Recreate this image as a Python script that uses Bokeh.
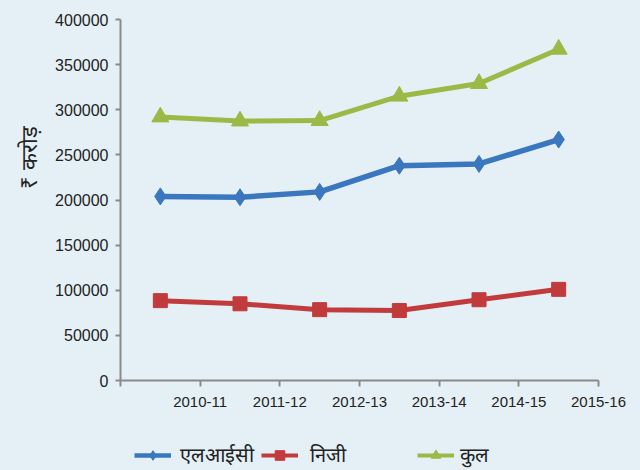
import numpy as np
from bokeh.plotting import figure
from bokeh.layouts import column
from bokeh.models import (Range1d, FixedTicker, NumeralTickFormatter, Legend,
                          LegendItem, Title)
from bokeh.embed import file_html
from bokeh.resources import INLINE

# ---- data ----
tick_labels = ["2010-11", "2011-12", "2012-13", "2013-14", "2014-15", "2015-16"]
lic = [204000, 203000, 209000, 238000, 240000, 267000]
private = [88500, 85000, 78500, 77500, 89500, 101000]
total = [292000, 287500, 288000, 315000, 329000, 367000]
series_names = ["एलआईसी", "निजी", "कुल"]
y_title = "₹ करोड़"
y_ticks = [0, 50000, 100000, 150000, 200000, 250000, 300000, 350000, 400000]

BG = "#e4f0f6"
BLUE = "#3a77be"
RED = "#c13b3c"
GREEN = "#9aba48"
AXIS = "#8a8a8a"
TXT = "#222222"
FONT = "Liberation Sans"

styles = [
    dict(color=BLUE, lw=5.5, marker="diamond", size=17),
    dict(color=RED, lw=5, marker="square", size=14),
    dict(color=GREEN, lw=5, marker="triangle", size=17),
]
series = [lic, private, total]

x = np.arange(len(lic)) + 0.5

p = figure(width=640, height=430, output_backend="svg", toolbar_location=None,
           x_range=Range1d(0, len(tick_labels)), y_range=Range1d(0, 400000),
           background_fill_color=BG, border_fill_color=BG)
p.min_border_left = 120
p.min_border_right = 42
p.min_border_top = 19
p.min_border_bottom = 50
p.outline_line_color = None
p.grid.visible = False

# y axis
p.yaxis.ticker = FixedTicker(ticks=y_ticks)
p.yaxis.formatter = NumeralTickFormatter(format="0")
p.yaxis.axis_line_color = AXIS
p.yaxis.axis_line_width = 2
p.yaxis.major_tick_line_color = AXIS
p.yaxis.major_tick_line_width = 2
p.yaxis.major_tick_out = 5
p.yaxis.major_tick_in = 0
p.yaxis.minor_tick_line_color = None
p.yaxis.major_label_text_font = FONT
p.yaxis.major_label_text_font_size = "16px"
p.yaxis.major_label_text_color = TXT
p.yaxis.major_label_standoff = 7

# x axis
p.xaxis.ticker = FixedTicker(ticks=list(range(len(tick_labels) + 1)))
overrides = {0: ""}
for i, lab in enumerate(tick_labels):
    overrides[i + 1] = lab
p.xaxis.major_label_overrides = overrides
p.xaxis.axis_line_color = AXIS
p.xaxis.axis_line_width = 2
p.xaxis.major_tick_line_color = AXIS
p.xaxis.major_tick_line_width = 2
p.xaxis.major_tick_out = 6
p.xaxis.major_tick_in = 0
p.xaxis.minor_tick_line_color = None
p.xaxis.major_label_text_font = FONT
p.xaxis.major_label_text_font_size = "15px"
p.xaxis.major_label_text_color = TXT
p.xaxis.major_label_standoff = 10

for ys, st in zip(series, styles):
    p.line(x, ys, line_color=st["color"], line_width=st["lw"], line_join="round")
    p.scatter(x, ys, marker=st["marker"], size=st["size"],
              fill_color=st["color"], line_color=st["color"])

# y-axis title (upper end placed 106px below the top of the frame)
p.add_layout(Title(text=y_title, align="right", offset=106, standoff=22,
                   text_font=FONT, text_font_size="22px", text_font_style="normal",
                   text_color=TXT), "left")

# legend strip (separate plot below the chart, frame aligned with the chart)
lp = figure(width=640, height=40, output_backend="svg", toolbar_location=None,
            x_range=Range1d(0, 478), y_range=Range1d(0, 40),
            x_axis_type=None, y_axis_type=None,
            background_fill_color=BG, border_fill_color=BG)
lp.min_border_left = 120
lp.min_border_right = 42
lp.min_border_top = 0
lp.min_border_bottom = 0
lp.outline_line_color = None
lp.grid.visible = False

leg_x = [14, 141, 297]
leg_standoff = [9, 12, 6]
for name, ys, st, lx, so in zip(series_names, series, styles, leg_x, leg_standoff):
    # same series data; lies outside this strip's ranges, so only the legend shows
    lr = lp.line(x, ys, line_color=st["color"], line_width=st["lw"] - 1)
    mr = lp.scatter(x, ys, marker=st["marker"], size=st["size"],
                    fill_color=st["color"], line_color=st["color"])
    lg = Legend(items=[LegendItem(label=name, renderers=[lr, mr])],
                location=(lx, 2), orientation="horizontal",
                glyph_width=37, glyph_height=24, label_height=24,
                label_standoff=so, padding=0, margin=0, spacing=0,
                border_line_color=None, background_fill_alpha=0,
                label_text_font=FONT, label_text_font_size="20px",
                label_text_color=TXT, label_text_baseline="middle")
    lp.add_layout(lg, "center")

layout = column(p, lp, spacing=0, styles={"background-color": BG})
open("out.html", "w").write(file_html(layout, INLINE))
